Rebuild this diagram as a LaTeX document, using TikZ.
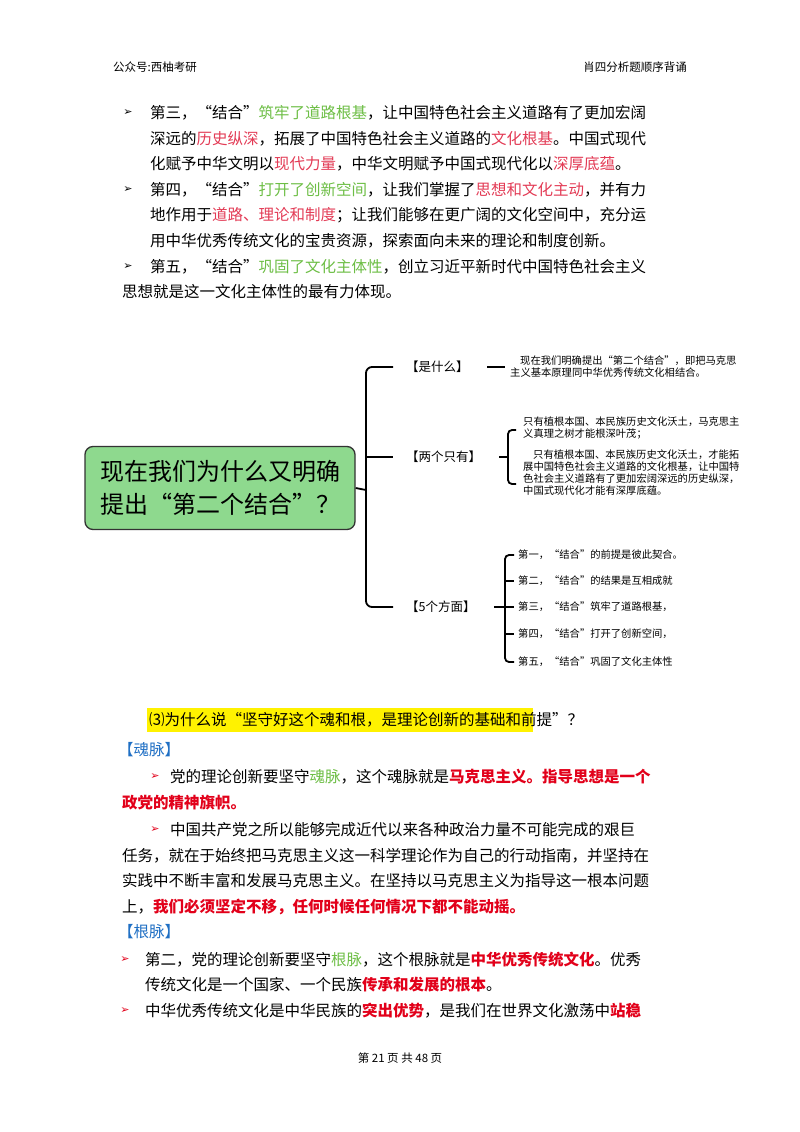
\documentclass[tikz,border=0pt]{standalone}
\usepackage{fontspec}
\setmainfont{Noto Sans CJK SC}
\newfontfamily\sym{DejaVu Sans}
\XeTeXlinebreaklocale "zh"
\XeTeXlinebreakskip=0pt plus 30pt
\definecolor{gr}{HTML}{6DBE45}
\definecolor{pk}{HTML}{E33B55}
\definecolor{rd}{HTML}{E2001A}
\definecolor{bl}{HTML}{1F6FC4}
\definecolor{boxg}{HTML}{8ED98E}
\newcommand\tl[4]{\node[anchor=west,inner sep=0pt] at (#1,#2) {\makebox[#3pt][s]{#4}};}
\newcommand\Gn[1]{\textcolor{gr}{#1}}
\newcommand\Pk[1]{\textcolor{pk}{#1}}
\newcommand\Rd[1]{\textcolor{rd}{\bfseries #1}}
\newcommand\arr[3]{\node[anchor=center,inner sep=0pt,text=#3] at (#1,#2) {\sym\fontsize{11}{11}\selectfont ➢};}
\begin{document}
\begin{tikzpicture}[x=1pt,y=-1pt,
  br/.style={line width=1.8pt,rounded corners=6pt},
  sm/.style={anchor=west,inner sep=0pt,font=\fontsize{10.3}{12}\selectfont}]
\useasboundingbox (0,0) rectangle (800,1132);
\fill[white] (0,0) rectangle (800,1132);
% header/footer
\node[anchor=west,inner sep=0pt,font=\fontsize{11.5}{12}\selectfont] (h1) at (113,67) {公众号:西柚考研};
\node[anchor=east,inner sep=0pt,font=\fontsize{11.5}{12}\selectfont] (h2) at (687,67) {肖四分析题顺序背诵};
\node[inner sep=0pt,font=\fontsize{11.5}{12}\selectfont] (ft) at (400,1058) {第 21 页 共 48 页};
% section 1
\begin{scope}[font=\fontsize{15.5}{16}\selectfont]
\arr{128}{113}{black}
\tl{150}{113}{515}{第三，“结合”\Gn{筑牢了道路根基}，让中国特色社会主义道路有了更加宏阔}
\tl{150}{139}{515}{深远的\Pk{历史纵深}，拓展了中国特色社会主义道路的\Pk{文化根基}。中国式现代}
\tl{150}{164}{510}{化赋予中华文明以\Pk{现代力量}，中华文明赋予中国式现代化以\Pk{深厚底蕴}。}
\arr{128}{190}{black}
\tl{150}{190}{515}{第四，“结合”\Gn{打开了创新空间}，让我们掌握了\Pk{思想和文化主动}，并有力}
\tl{150}{215}{515}{地作用于\Pk{道路、理论和制度}；让我们能够在更广阔的文化空间中，充分运}
\tl{150}{241}{495}{用中华优秀传统文化的宝贵资源，探索面向未来的理论和制度创新。}
\arr{128}{267}{black}
\tl{150}{267}{515}{第五，“结合”\Gn{巩固了文化主体性}，创立习近平新时代中国特色社会主义}
\tl{122}{292}{290}{思想就是这一文化主体性的最有力体现。}
\end{scope}
% mind map
\node[draw=black!80,line width=1.3pt,fill=boxg,rounded corners=8pt,minimum width=270pt,minimum height=83pt,align=center,font=\fontsize{24}{33}\selectfont] (box) at (220,488) {现在我们为什么又明确\\提出“第二个结合”？};
\coordinate (bm) at (366,490);
\draw[line width=1.8pt] (box.east) -- (bm);
\draw[br] (393,367) -- (366,367) -- (366,607) -- (393,607);
\draw[line width=1.8pt] (366,457) -- (393,457);
\node[anchor=west,inner sep=0pt,font=\fontsize{12.5}{13}\selectfont] (n1) at (406,367) {【是什么】};
\node[anchor=west,inner sep=0pt,font=\fontsize{12.5}{13}\selectfont] (n2) at (406,457) {【两个只有】};
\node[anchor=west,inner sep=0pt,font=\fontsize{12.5}{13}\selectfont] (n3) at (406,607) {【5个方面】};
\draw[line width=1.8pt] (487,367) -- (505,367);
\node[sm,align=left] (t1) at (510,367) {\hspace{10pt}现在我们明确提出“第二个结合”，即把马克思\\主义基本原理同中华优秀传统文化相结合。};
\draw[line width=1.8pt] (499,457) -- (508,457);
\draw[line width=1.8pt,rounded corners=4pt] (516,430) -- (508,430) -- (508,484) -- (516,484);
\node[sm,align=left,anchor=north west] (t2) at (523,417) {只有植根本国、本民族历史文化沃土，马克思主\\义真理之树才能根深叶茂；\\[9pt]\hspace{10pt}只有植根本国、本民族历史文化沃土，才能拓\\展中国特色社会主义道路的文化根基，让中国特\\色社会主义道路有了更加宏阔深远的历史纵深，\\中国式现代化才能有深厚底蕴。};
\draw[line width=1.8pt] (494,607) -- (505,607);
\draw[line width=1.8pt,rounded corners=4pt] (514,555) -- (505,555) -- (505,662) -- (514,662);
\foreach \yy in {581,634} \draw[line width=1.8pt] (505,\yy) -- (514,\yy);
\draw[line width=1.8pt] (505,607) -- (514,607);
\node[sm] (f1) at (518,555) {第一，“结合”的前提是彼此契合。};
\node[sm] (f2) at (518,581) {第二，“结合”的结果是互相成就};
\node[sm] (f3) at (518,607) {第三，“结合”筑牢了道路根基，};
\node[sm] (f4) at (518,634) {第四，“结合”打开了创新空间，};
\node[sm] (f5) at (518,662) {第五，“结合”巩固了文化主体性};
% section 3
\fill[yellow] (147,708) rectangle (533,732);
\begin{scope}[font=\fontsize{15.5}{16}\selectfont]
\node[anchor=west,inner sep=0pt] (q) at (149,720) {⑶为什么说“坚守好这个魂和根，是理论创新的基础和前提”？};
\node[anchor=west,inner sep=0pt,text=bl] (k1) at (118,750) {【魂脉】};
\arr{155}{777}{rd}
\tl{170}{777}{495}{党的理论创新要坚守\Gn{魂脉}，这个魂脉就是\Rd{马克思主义。指导思想是一个}}
\tl{122}{803}{130}{\Rd{政党的精神旗帜。}}
\arr{155}{830}{rd}
\tl{170}{830}{495}{中国共产党之所以能够完成近代以来各种政治力量不可能完成的艰巨}
\tl{122}{856}{543}{任务，就在于始终把马克思主义这一科学理论作为自己的行动指南，并坚持在}
\tl{122}{881}{543}{实践中不断丰富和发展马克思主义。在坚持以马克思主义为指导这一根本问题}
\tl{122}{907}{352}{上，\Rd{我们必须坚定不移，任何时候任何情况下都不能动摇。}}
\node[anchor=west,inner sep=0pt,text=bl] (k2) at (118,932) {【根脉】};
\arr{125}{960}{rd}
\tl{145}{960}{520}{第二，党的理论创新要坚守\Gn{根脉}，这个根脉就是\Rd{中华优秀传统文化}。优秀}
\tl{145}{985}{313}{传统文化是一个国家、一个民族\Rd{传承和发展的根本}。}
\arr{125}{1011}{rd}
\tl{145}{1011}{520}{中华优秀传统文化是中华民族的\Rd{突出优势}，是我们在世界文化激荡中\Rd{站稳}}
\end{scope}
\end{tikzpicture}
\end{document}
